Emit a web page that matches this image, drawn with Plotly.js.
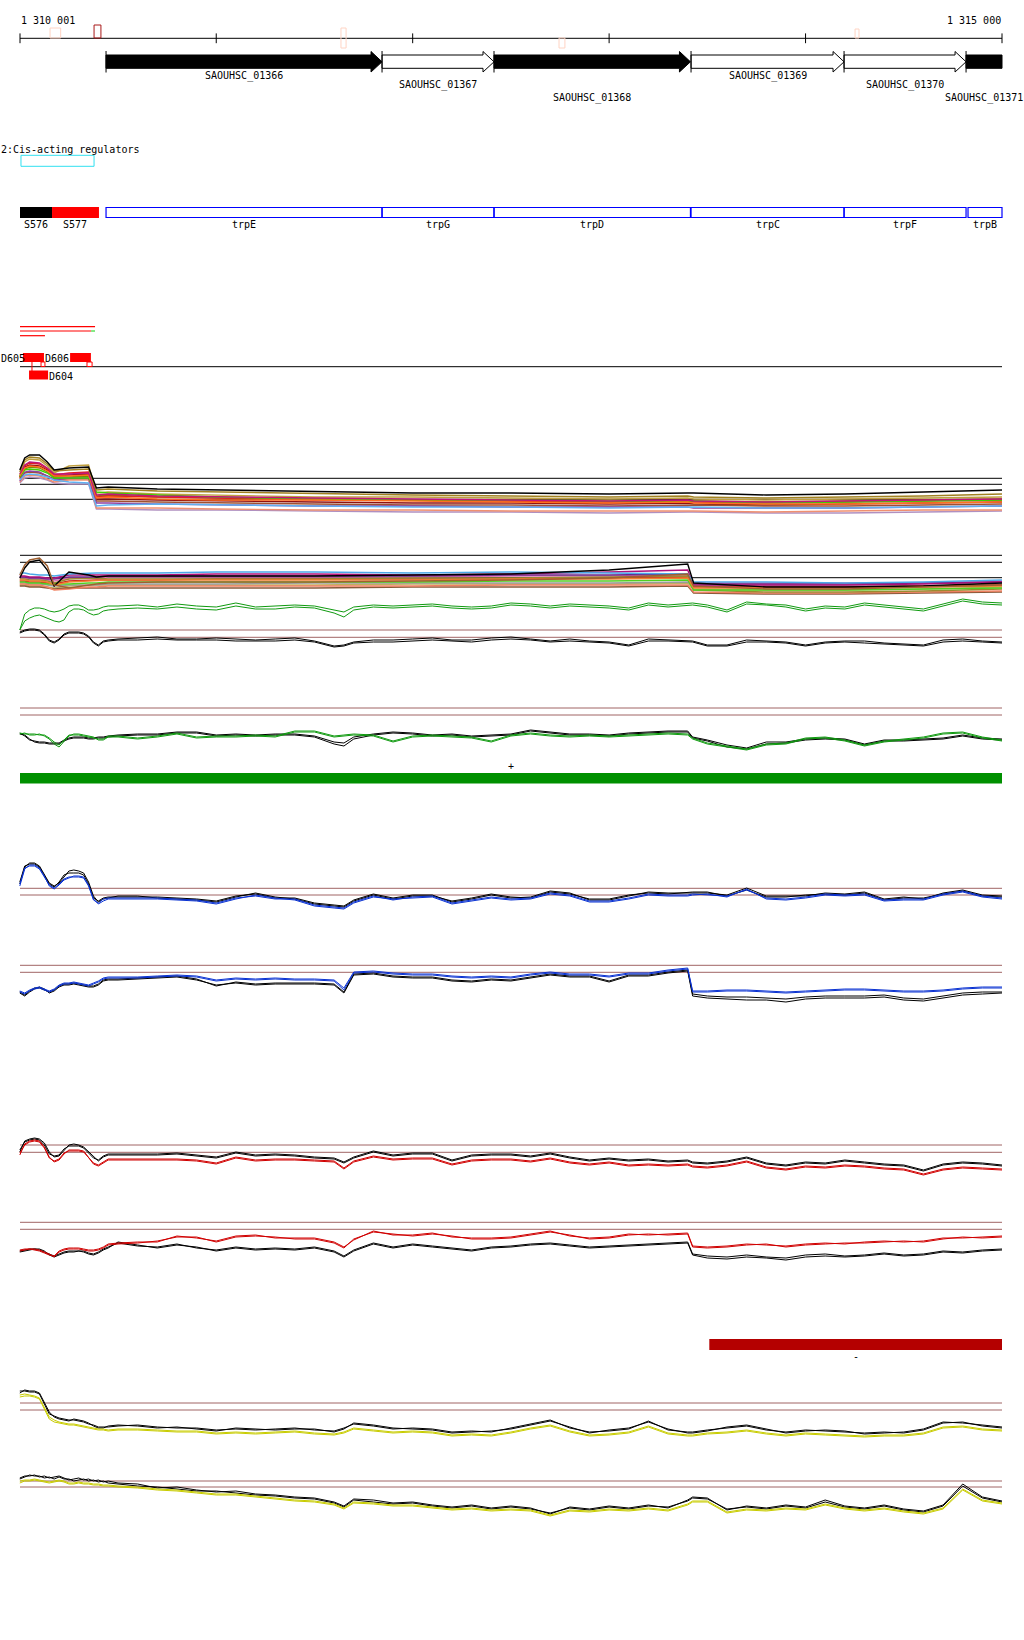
<!DOCTYPE html>
<html><head><meta charset="utf-8">
<script src="https://cdn.plot.ly/plotly-3.0.1.min.js"></script>
<style>body{margin:0;background:#fff}#chart{width:1024px;height:1640px}</style>
</head><body><div id="chart"></div>
<script>
// ---------- DATA ----------
const VIEW_START = 1310001, VIEW_END = 1315000;
const tickPositions = [1310001, 1311000, 1312000, 1313000, 1314000, 1315000];
const rulerLabels = ['1 310 001', '1 315 000'];

const siteStart = [1310154, 1310378, 1311635, 1312745, 1314252];
const siteEnd   = [1310208, 1310413, 1311661, 1312775, 1314272];
const siteColor = ['#ffd4c4', '#a81818', '#ffd4c4', '#ffd4c4', '#ffd4c4'];

const geneNames  = ['SAOUHSC_01366','SAOUHSC_01367','SAOUHSC_01368','SAOUHSC_01369','SAOUHSC_01370','SAOUHSC_01371'];
const geneStart  = [1310439, 1311844, 1312414, 1313417, 1314196, 1314817];
const geneEnd    = [1311844, 1312414, 1313414, 1314196, 1314817, 1315400];
const geneFilled = [true, false, true, false, false, true];
const geneLabelRow = [0, 1, 2, 0, 1, 2];

const cisStart = 1310006, cisEnd = 1310378;
const cisTitle = '2:Cis-acting regulators';

const sNames = ['S576', 'S577'];
const sStart = [1310001, 1310164];
const sEnd   = [1310164, 1310403];
const sColor = ['#000000', '#ff0000'];

const trpNames = ['trpE','trpG','trpD','trpC','trpF','trpB'];
const trpStart = [1310439, 1311844, 1312414, 1313417, 1314196, 1314827];
const trpEnd   = [1311844, 1312414, 1313414, 1314196, 1314817, 1315000];

const regLineStart = [1310001, 1310001, 1310363, 1310001];
const regLineEnd   = [1310383, 1310363, 1310383, 1310128];
const regLineColor = ['#ff0000', '#ff0000', '#33dd33', '#ff0000'];
const regLineRow   = [0, 1, 1, 2];

const dNames = ['D605', 'D606', 'D604'];
const dStart = [1310016, 1310256, 1310047];
const dEnd   = [1310123, 1310362, 1310144];
const dRow   = [0, 0, 1];
const dMarkStart = [1310108, 1310342];
const dMarkEnd   = [1310128, 1310368];

const plusStrandStart = 1310001, plusStrandEnd = 1315000;
const minusStrandStart = 1313510, minusStrandEnd = 1315000;

const posGrid = [1310000,1310025,1310050,1310075,1310100,1310125,1310150,1310175,1310200,1310225,1310250,1310275,1310300,1310325,1310350,1310375,1310400,1310425,1310450,
 1310500,1310600,1310700,1310800,1310900,1311000,1311100,1311200,1311300,1311400,1311500,1311600,1311650,1311700,1311800,1311900,1312000,1312100,1312200,1312300,1312400,
 1312500,1312600,1312700,1312800,1312900,1313000,1313100,1313200,1313300,1313400,1313425,1313500,1313600,1313700,1313800,1313900,1314000,1314100,1314200,1314300,
 1314400,1314500,1314600,1314700,1314800,1314900,1315000];
const mcGrid = [1310000,1310025,1310050,1310100,1310140,1310175,1310250,1310350,1310390,1310450,1310700,1311000,1311500,1312000,1312500,1313000,1313400,1313430,1313800,1314200,1314600,1315000];

// track 1 multi-sample profiles
const t1Colors = ['#000000','#a08020','#c0157a','#ff7020','#40d000','#60b0f0','#9040a0','#e02020','#f09070','#c0a040','#a05030','#b090c0','#901010','#7a8a00'];
const t1a = [50,62,65,65,58,50,52,53,32,33,31,30,28,27,27,26,27,27,25,26,28,30];
const t1b = [48,60,63,62,56,49,50,51,30,31,29,28,26,25,24,23,24,23,22,23,24,26];
const t1c = [46,55,58,57,52,46,46,47,25,26,24,23,22,21,20,19,20,19,18,19,20,21];
const t1d = [44,52,54,53,49,44,44,45,22,23,21,20,20,19,18,17,18,17,16,16,17,18];
const t1e = [43,50,51,50,47,42,42,42,28,27,25,23,21,20,20,19,19,19,17,18,19,20];
const t1f = [40,45,46,45,43,40,38,37,14,15,16,15,14,13,13,12,13,13,12,12,13,14];
const t1g = [39,48,49,48,44,40,42,42,17,17,16,15,14,14,13,13,13,12,12,12,13,14];
const t1h = [42,54,57,56,51,45,47,48,23,24,23,22,20,20,19,18,19,18,17,18,19,20];
const t1i = [38,44,45,44,41,38,40,40,12,12,12,11,10,10,9,9,9,9,8,9,10,10];
const t1j = [45,58,61,60,54,47,54,55,27,28,26,25,23,23,22,21,22,21,20,21,22,23];
const t1k = [41,47,48,47,44,41,41,41,19,19,18,17,16,15,15,14,15,15,14,14,15,16];
const t1l = [37,42,43,42,40,37,36,36,11,11,10,10,9,8,8,7,8,8,7,7,8,9];
const t1m = [43,53,55,54,50,44,45,46,21,21,20,19,18,17,17,16,17,16,15,16,17,18];
const t1n = [44,51,53,52,48,43,43,44,24,25,23,22,21,20,19,18,19,19,18,19,20,21];
const t1Thresholds = [41.7, 35.7, 20.7];

// track 2 multi-sample profiles
const t2Colors = ['#a06030','#000000','#4aa8e8','#b0107a','#6a2a8a','#f08030','#50d020','#9a8a30','#f08060','#d02020','#9a9a9a','#8a5a3a','#c0b060','#e070b0'];
const t2a = [80,90,95,97,89,70,67,70,71,72,73,73,73,74,75,77,81,69,66,66,68,70];
const t2b = [77,87,93,95,85,69,83,80,78,79,79,79,79,80,81,85,91,72,68,68,69,72];
const t2c = [82,82,81,80,80,79,81,82,82,82,82,83,83,82,83,82,81,73,73,72,73,75];
const t2d = [79,79,78,78,77,77,80,80,80,80,80,81,81,80,81,83,85,70,70,70,71,73];
const t2e = [78,78,77,77,76,76,78,78,78,79,79,79,79,79,80,80,81,71,71,71,72,73];
const t2f = [75,75,74,74,73,70,73,74,74,75,75,75,75,75,76,76,77,67,67,67,68,69];
const t2g = [73,73,72,72,71,71,71,72,72,73,73,73,73,73,74,74,75,65,65,65,66,67];
const t2h = [76,76,75,75,74,72,76,77,77,76,76,76,76,77,77,78,79,65,63,63,64,66];
const t2i = [71,71,70,70,68,65,66,68,68,69,69,69,69,69,70,70,70,63,62,62,63,64];
const t2j = [74,74,73,73,72,71,74,75,75,75,75,76,76,76,76,77,78,68,68,68,69,70];
const t2k = [72,72,71,71,70,69,70,70,70,71,71,71,72,72,72,72,73,69,69,69,69,71];
const t2l = [69,69,68,68,67,66,67,67,67,67,67,67,67,68,68,68,69,62,61,61,62,63];
const t2m = [70,70,69,69,68,67,69,70,70,70,70,70,70,71,71,71,72,66,65,65,66,68];
const t2n = [77,77,76,76,75,74,77,77,77,78,78,78,78,78,79,79,80,72,72,72,72,74];
const t2Thresholds = [99.7, 92.7, 77.3];
const t2Green1 = [25,41,45,47,47,46,44,43,44,46,49,50,50,48,45,45,46,48,49,49,50,48,51,49,48,52,48,49,50,49,45,43,48,50,49,50,51,49,48,49,52,51,49,51,50,49,47,52,50,51,52,50,45,53,51,50,46,49,48,52,50,48,46,51,56,53,52];
const t2Green2 = [25,34,37,39,40,38,36,34,33,35,43,46,46,45,42,40,41,44,45,46,47,46,48,46,45,49,46,46,48,47,42,38,45,48,47,48,49,47,46,47,50,49,47,49,48,47,45,50,48,49,50,48,43,51,50,48,44,47,46,50,48,46,44,49,54,51,50];
const t2Black1 = [23,25,26,26,25,21,15,13,16,21,23,23,23,22,19,13,10,14,15,16,17,18,16,16,17,16,15,16,17,14,9,10,13,15,15,16,17,15,15,17,18,16,14,16,14,13,10,16,15,14,14,10,10,15,14,13,10,13,14,14,12,11,10,15,16,14,13];
const t2Black2 = [22,24,25,25,24,20,14,12,15,20,22,22,22,21,18,12,9,13,14,15,15,16,15,15,15,14,14,14,15,13,8,9,12,13,13,14,15,14,13,15,16,15,13,14,13,12,9,14,14,13,13,9,9,13,13,12,9,12,13,12,11,10,9,13,14,13,12];
const t2Brown = [25, 17.7];

// track 3
const t3Black1 = [27,24,20,19,18,18,17,17,17,20,22,23,23,23,22,22,23,23,24,25,26,26,28,28,25,26,25,26,26,24,18,17,23,26,28,27,25,26,24,25,26,30,28,26,26,25,27,28,29,29,23,20,15,12,18,18,21,22,21,16,20,20,21,22,25,22,21];
const t3Black2 = [26,25,21,18,17,17,16,16,16,19,21,22,22,22,21,21,22,22,23,24,25,25,27,27,24,25,24,25,25,23,16,14,21,25,27,26,24,25,23,24,25,29,27,25,25,24,26,27,28,28,22,19,13,11,16,17,20,21,20,15,19,19,20,21,24,21,20];
const t3Green1 = [27,26,26,26,25,25,22,18,15,20,25,25,25,24,23,22,21,21,24,24,22,24,27,23,24,24,25,24,29,29,24,25,26,25,19,24,25,24,23,19,25,27,25,24,25,24,25,26,27,26,22,17,14,11,16,17,22,23,20,15,19,21,23,27,28,23,20];
const t3Green2 = [26,27,25,25,26,24,21,16,13,19,24,26,26,25,24,23,20,20,23,23,21,23,26,22,23,23,24,23,28,28,23,24,25,24,18,23,24,23,22,18,24,26,24,23,24,23,24,25,26,25,21,16,13,10,15,16,21,22,19,14,18,20,22,26,27,22,19];
const t3Brown = [52, 45];

// track 4
const t4aBlack1 = [38,54,56,56,53,44,36,33,38,45,47,47,47,45,36,22,19,22,23,23,23,23,22,21,19,24,26,22,22,17,15,14,20,26,22,25,25,18,21,25,22,23,29,27,20,20,24,28,27,27,27,27,25,32,24,24,24,27,26,28,21,23,21,27,30,25,24];
const t4aBlack2 = [36,53,57,57,54,46,37,34,37,43,49,50,49,47,38,24,18,21,22,24,24,22,21,20,18,23,27,23,21,16,14,13,19,25,21,24,24,19,22,26,23,22,28,26,21,21,25,27,26,28,28,28,24,30,23,23,25,26,25,27,20,22,22,26,29,24,23];
const t4aBlue1 = [36,52,54,54,51,43,35,32,36,41,43,43,43,42,34,20,17,21,22,22,22,22,21,20,17,22,24,21,21,15,13,12,18,24,20,23,24,17,20,23,21,22,27,25,19,19,22,26,25,25,26,25,24,30,22,21,23,26,25,26,20,21,21,26,29,24,22];
const t4aBlue2 = [34,51,55,55,52,44,34,31,35,40,42,44,44,43,35,21,16,19,21,21,21,21,20,19,16,21,25,22,20,14,12,11,17,23,21,22,23,16,19,22,20,21,26,24,18,18,21,25,24,24,25,26,23,31,21,20,22,25,24,25,19,20,20,25,28,23,21];
const t4aBrown = [31.7, 25];
const t4bBlack1 = [18,15,19,22,22,20,18,20,24,26,26,27,26,25,24,24,26,30,31,31,32,33,34,31,24,28,26,27,27,27,26,18,36,37,34,33,33,30,29,31,30,33,36,34,34,29,35,35,38,40,16,14,13,13,12,11,13,14,14,14,15,12,11,14,17,18,18];
const t4bBlack2 = [17,14,18,21,23,21,17,19,23,25,25,26,25,24,23,23,25,29,30,30,31,32,33,30,25,27,25,26,26,26,25,17,35,36,33,32,32,29,28,30,29,32,35,33,33,28,34,34,37,39,14,12,11,10,10,8,11,12,12,12,13,10,9,12,15,16,17];
const t4bBlue1 = [19,17,20,22,23,21,19,21,25,27,27,28,27,26,25,27,29,32,33,33,33,34,35,34,30,32,31,32,31,31,30,22,38,39,37,36,36,34,33,34,33,36,38,36,36,34,37,37,40,42,19,19,20,20,19,18,19,20,21,21,20,19,19,20,22,23,23];
const t4bBlue2 = [18,16,19,21,22,20,18,20,24,26,26,27,26,25,24,26,28,31,32,32,32,33,34,33,29,31,30,31,30,30,29,20,37,38,36,35,35,33,32,33,32,35,37,35,35,33,36,36,39,41,18,18,19,19,18,17,18,19,20,20,19,18,18,19,21,22,22];
const t4bBrown = [44.7, 37.7];

// track 5
const t5aBlack1 = [35,43,45,46,45,40,31,29,30,36,39,39,39,37,32,27,25,29,31,31,31,31,32,30,28,33,30,31,30,28,27,23,28,34,30,32,32,25,30,31,31,29,32,28,25,27,25,26,24,25,23,22,24,28,22,20,23,22,25,23,21,20,15,21,23,22,20];
const t5aBlack2 = [33,44,46,47,46,42,33,28,29,35,40,41,40,38,33,28,24,28,30,30,30,30,31,29,27,32,29,30,29,27,26,22,27,33,29,31,31,24,29,30,30,28,31,27,24,26,24,25,23,24,22,21,23,27,21,19,22,21,24,22,20,19,14,20,22,21,19];
const t5aRed1 = [32,40,43,44,43,37,27,24,26,32,34,34,34,33,27,22,20,23,26,26,26,26,26,25,22,28,25,26,26,25,24,17,24,29,26,27,27,21,25,26,26,24,27,23,21,23,20,21,20,21,19,18,20,24,18,16,19,18,20,19,17,16,11,16,18,17,16];
const t5aRed2 = [30,41,44,45,44,38,28,23,25,31,35,35,35,34,28,21,19,22,25,25,25,25,25,24,21,27,24,25,25,24,23,16,23,28,25,26,26,20,24,25,25,23,26,22,20,22,19,20,19,20,18,17,19,23,17,15,18,17,19,18,16,15,10,15,17,16,15];
const t5aBrown = [40, 32.7];
const t5bBlack1 = [14,15,16,16,15,13,11,9,11,13,14,14,14,14,12,11,13,16,18,22,19,18,21,17,15,18,16,17,16,18,14,9,15,22,18,21,19,17,15,18,19,21,22,20,18,19,20,21,22,23,11,9,8,10,8,7,10,11,9,10,12,10,11,14,13,15,16];
const t5bBlack2 = [13,14,15,16,16,14,10,8,10,12,13,13,14,13,11,10,12,15,17,23,20,17,20,18,14,17,15,16,15,17,13,8,14,21,17,20,18,16,14,17,18,20,21,19,17,18,19,20,21,22,10,7,6,8,7,5,8,9,8,9,11,9,10,13,12,14,15];
const t5bRed1 = [15,16,16,15,14,12,10,9,14,16,17,17,17,16,15,15,16,18,21,22,23,23,29,27,24,29,30,27,27,27,23,18,25,34,30,30,32,28,27,27,28,31,34,29,27,28,31,30,31,32,19,18,19,21,20,19,21,22,21,23,24,23,24,27,27,28,29];
const t5bRed2 = [14,15,16,16,15,13,11,8,13,15,16,16,16,15,14,14,15,17,20,21,22,24,28,28,23,28,29,28,26,26,22,17,26,33,31,29,31,29,26,26,27,30,33,30,26,27,30,31,30,31,18,17,18,20,21,18,20,21,22,22,23,24,23,26,28,27,28];
const t5bBrown = [42.7, 35.7];

// track 6
const t6aBlack1 = [59,59,58,58,56,46,36,34,32,31,30,30,29,28,26,25,23,23,23,24,25,23,22,22,20,21,20,21,22,20,19,22,26,24,21,22,21,18,19,18,22,26,30,22,18,19,21,29,20,18,18,20,22,24,20,18,20,19,18,17,18,17,20,27,28,24,22];
const t6aBlack2 = [57,60,59,59,57,48,38,33,31,30,29,31,30,29,27,24,22,22,24,25,24,22,23,21,19,22,21,20,21,21,18,21,27,25,22,21,20,17,18,19,21,25,29,23,17,20,22,28,21,17,17,19,23,25,21,17,19,20,19,16,17,18,21,28,27,25,23];
const t6aYellow1 = [55,56,55,54,52,42,33,30,28,27,26,26,25,24,23,22,21,21,20,21,21,20,19,19,17,18,17,18,19,17,16,18,22,20,18,19,18,15,16,15,18,22,25,19,15,16,18,24,17,15,15,17,18,20,17,15,17,16,15,14,15,15,17,23,24,21,20];
const t6aYellow2 = [53,54,54,53,51,41,31,28,27,26,25,25,24,23,22,21,20,20,19,20,20,19,18,18,16,17,16,17,18,16,15,17,21,19,17,18,17,14,15,14,17,21,24,18,14,15,17,23,16,14,14,16,17,19,16,14,16,15,14,13,14,14,16,22,23,20,19];
const t6aBrown = [47, 40];
const t6bBlack1 = [47,49,49,50,48,49,47,48,49,47,45,46,47,45,46,44,45,43,44,42,41,37,38,35,33,34,31,30,28,27,23,19,26,25,22,23,20,18,20,17,19,17,11,18,16,19,17,20,17,25,28,27,15,19,17,20,18,25,19,17,20,16,14,20,41,28,24];
const t6bBlack2 = [46,48,50,49,49,47,48,46,48,46,46,44,45,46,44,45,43,44,42,41,39,38,36,34,34,32,30,29,27,26,22,18,25,23,21,22,19,17,19,16,18,16,12,17,15,18,16,19,18,24,27,26,16,18,16,19,17,23,18,16,19,15,13,19,39,27,23];
const t6bYellow1 = [44,45,45,46,45,44,43,44,45,44,42,42,43,42,42,41,41,40,40,39,38,36,35,33,31,31,29,27,25,24,21,17,23,22,20,20,18,16,17,15,16,15,10,15,14,16,15,17,15,21,24,24,13,16,15,17,16,21,17,15,17,14,12,17,36,25,22];
const t6bYellow2 = [42,44,44,45,44,43,42,43,44,43,41,41,42,41,41,40,40,39,39,38,37,35,34,32,30,30,28,26,24,23,20,16,22,21,19,19,17,15,16,14,15,14,9,14,13,15,14,16,14,20,23,23,12,15,14,16,15,20,16,14,16,13,11,16,35,24,21];
const t6bBrown = [44, 38];

// ---------- LAYOUT CONSTANTS ----------
const W = 1024, H = 1640;
const PX_PER_BP = 982 / (VIEW_END - VIEW_START);
const X0 = VIEW_START - 20 / PX_PER_BP, X1 = X0 + W / PX_PER_BP;
const FONT = {family: 'DejaVu Sans Mono, monospace', size: 10, color: '#000'};
const CHAR_W = 6.02;
const BROWN = '#a06464';
const panels = {y2:[440,520], y3:[545,655], y4:[700,760], y5:[850,920], y6:[955,1010], y7:[1130,1185], y8:[1215,1265], y9:[1388,1450], y10:[1470,1525]};

const traces = [];
const shapes = [];
const annotations = [];
function toPx(bp) { return (bp - X0) * PX_PER_BP; }
function addLine(xs, ys, axis, color, width) {
  traces.push({type:'scatter', mode:'lines', x:xs, y:ys, xaxis:'x', yaxis:axis,
    line:{color:color, width:width||1}, hoverinfo:'skip', showlegend:false});
}
function addRect(x0, x1, y0, y1, lineColor, fill, lw) {
  shapes.push({type:'rect', xref:'x', yref:'y', x0:x0, x1:x1, y0:y0, y1:y1,
    line:{color:lineColor, width:lw===undefined?1:lw}, fillcolor:fill||'rgba(0,0,0,0)', layer:'above'});
}
function addText(text, x, y, xanchor, xref) {
  annotations.push({text:text, x:x, y:y, xref:xref||'x', yref:'y', xanchor:xanchor||'center', yanchor:'middle',
    showarrow:false, font:FONT, borderpad:0});
}
function hline(values, axis, color) {
  values.forEach(v => addLine([VIEW_START, VIEW_END], [v, v], axis, color, 1));
}

// ruler
addLine([VIEW_START, VIEW_END], [38.3, 38.3], 'y', '#000', 1);
traces.push({type:'scatter', mode:'markers', x:tickPositions, y:tickPositions.map(() => 38.3), xaxis:'x', yaxis:'y',
  marker:{symbol:'line-ns', size:7, line:{width:1, color:'#000'}}, hoverinfo:'skip', showlegend:false});
addText(rulerLabels[0], VIEW_START, 20, 'left');
addText(rulerLabels[1], VIEW_END, 20, 'right');
const siteTop = [28, 25, 28, 38, 29], siteBottom = [38, 38, 48, 48, 38];
siteStart.forEach((s, i) => addRect(s, siteEnd[i], siteTop[i], siteBottom[i], siteColor[i], 'rgba(0,0,0,0)', 1));

// genes
const HEAD = 11 / PX_PER_BP;
const rowY = [76, 85, 97.5];
geneNames.forEach((name, i) => {
  const s = geneStart[i];
  let xs, ys;
  if (geneEnd[i] > VIEW_END) {
    xs = [s, VIEW_END, VIEW_END, s, s]; ys = [55, 55, 68.3, 68.3, 55];
  } else {
    const e = geneEnd[i], h = e - HEAD;
    xs = [s, h, h, e, h, h, s, s]; ys = [55, 55, 51.5, 61.8, 72, 68.3, 68.3, 55];
  }
  traces.push({type:'scatter', mode:'lines', x:xs, y:ys, xaxis:'x', yaxis:'y', fill:'toself',
    fillcolor: geneFilled[i] ? '#000' : '#fff', line:{color:'#000', width:1}, hoverinfo:'skip', showlegend:false});
  addLine([s, s], [51, 72.5], 'y', '#000', 1);
  const mid = (s + Math.min(geneEnd[i], VIEW_END)) / 2;
  addText(name, mid, rowY[geneLabelRow[i]], 'center');
});

// cis-acting regulators
addText(cisTitle, 0, 149, 'left', 'paper');
addRect(cisStart, cisEnd, 155.3, 166.3, '#30e0f0', 'rgba(0,0,0,0)', 1);

// S576/S577 and trp operon
sNames.forEach((n, i) => {
  addRect(sStart[i], sEnd[i], 207, 218, sColor[i], sColor[i], 0);
  addText(n, (sStart[i] + sEnd[i]) / 2, 224, 'center');
});
trpNames.forEach((n, i) => {
  addRect(trpStart[i], trpEnd[i], 207.5, 217.5, '#0000ff', 'rgba(0,0,0,0)', 1.2);
  addText(n, (trpStart[i] + trpEnd[i]) / 2, 224.5, 'center');
});

// regulatory RNA lines and D-features
const regRowY = [326.7, 331, 335.7];
regLineStart.forEach((s, i) => addLine([s, regLineEnd[i]], [regRowY[regLineRow[i]], regRowY[regLineRow[i]]], 'y', regLineColor[i], 1.2));
addLine([VIEW_START, VIEW_END], [366.7, 366.7], 'y', '#000', 1);
const dRowTop = [353, 370.5], dRowBottom = [362, 379.5];
addLine([dStart[2] + 15, dStart[2] + 15], [362, 371], 'y', '#ff0000', 1);
dNames.forEach((n, i) => {
  addRect(dStart[i], dEnd[i], dRowTop[dRow[i]], dRowBottom[dRow[i]], '#ff0000', '#ff0000', 0);
  if (dRow[i] === 0) {
    // keep the label inside the page: if it would run past the left edge, start it at the edge
    if (toPx(dStart[i]) < n.length * CHAR_W + 0.5) addText(n, 0, 358.5, 'left', 'paper');
    else addText(n, dStart[i], 358.5, 'right');
  } else addText(n, dEnd[i], 376, 'left');
});
dMarkStart.forEach((s, i) => addRect(s, dMarkEnd[i], 362, 366.5, '#ff0000', '#fff', 1));

// strand bars
addRect(plusStrandStart, plusStrandEnd, 773, 783.5, '#009000', '#009000', 0);
addText('+', (plusStrandStart + plusStrandEnd) / 2, 766, 'center');
addRect(minusStrandStart, minusStrandEnd, 1339, 1350, '#b40000', '#b40000', 0);
addText('-', (minusStrandStart + minusStrandEnd) / 2, 1356, 'center');

// track 1
hline(t1Thresholds, 'y2', '#000');
const t1Series = [t1a,t1b,t1c,t1d,t1e,t1f,t1g,t1h,t1i,t1j,t1k,t1l,t1m,t1n];
for (let i = t1Series.length - 1; i >= 0; i--) addLine(mcGrid, t1Series[i], 'y2', t1Colors[i], 1.4);
// track 2
hline(t2Thresholds, 'y3', '#000');
hline(t2Brown, 'y3', BROWN);
const t2Series = [t2a,t2b,t2c,t2d,t2e,t2f,t2g,t2h,t2i,t2j,t2k,t2l,t2m,t2n];
for (let i = t2Series.length - 1; i >= 0; i--) addLine(mcGrid, t2Series[i], 'y3', t2Colors[i], 1.4);
addLine(posGrid, t2Green1, 'y3', '#109a10', 1);
addLine(posGrid, t2Green2, 'y3', '#109a10', 1);
addLine(posGrid, t2Black1, 'y3', '#000', 1);
addLine(posGrid, t2Black2, 'y3', '#000', 1);
// track 3
hline(t3Brown, 'y4', BROWN);
addLine(posGrid, t3Black1, 'y4', '#000', 1);
addLine(posGrid, t3Black2, 'y4', '#000', 1);
addLine(posGrid, t3Green1, 'y4', '#109a10', 1);
addLine(posGrid, t3Green2, 'y4', '#109a10', 1);
// track 4
hline(t4aBrown, 'y5', BROWN);
addLine(posGrid, t4aBlack1, 'y5', '#000', 1);
addLine(posGrid, t4aBlack2, 'y5', '#000', 1);
addLine(posGrid, t4aBlue1, 'y5', '#0a32d2', 1);
addLine(posGrid, t4aBlue2, 'y5', '#0a32d2', 1);
hline(t4bBrown, 'y6', BROWN);
addLine(posGrid, t4bBlack1, 'y6', '#000', 1);
addLine(posGrid, t4bBlack2, 'y6', '#000', 1);
addLine(posGrid, t4bBlue1, 'y6', '#0a32d2', 1);
addLine(posGrid, t4bBlue2, 'y6', '#0a32d2', 1);
// track 5
hline(t5aBrown, 'y7', BROWN);
addLine(posGrid, t5aBlack1, 'y7', '#000', 1);
addLine(posGrid, t5aBlack2, 'y7', '#000', 1);
addLine(posGrid, t5aRed1, 'y7', '#d00000', 1);
addLine(posGrid, t5aRed2, 'y7', '#d00000', 1);
hline(t5bBrown, 'y8', BROWN);
addLine(posGrid, t5bBlack1, 'y8', '#000', 1);
addLine(posGrid, t5bBlack2, 'y8', '#000', 1);
addLine(posGrid, t5bRed1, 'y8', '#d00000', 1);
addLine(posGrid, t5bRed2, 'y8', '#d00000', 1);
// track 6
hline(t6aBrown, 'y9', BROWN);
addLine(posGrid, t6aBlack1, 'y9', '#000', 1);
addLine(posGrid, t6aBlack2, 'y9', '#000', 1);
addLine(posGrid, t6aYellow1, 'y9', '#c8cc00', 1);
addLine(posGrid, t6aYellow2, 'y9', '#c8cc00', 1);
hline(t6bBrown, 'y10', BROWN);
addLine(posGrid, t6bBlack1, 'y10', '#000', 1);
addLine(posGrid, t6bBlack2, 'y10', '#000', 1);
addLine(posGrid, t6bYellow1, 'y10', '#c8cc00', 1);
addLine(posGrid, t6bYellow2, 'y10', '#c8cc00', 1);

const layout = {
  width: W, height: H, margin: {l:0, r:0, t:0, b:0, pad:0},
  paper_bgcolor: '#fff', plot_bgcolor: 'rgba(0,0,0,0)', showlegend: false, hovermode: false,
  xaxis: {range: [X0, X1], visible: false, fixedrange: true, anchor: 'y'},
  yaxis: {range: [H, 0], domain: [0, 1], visible: false, fixedrange: true, anchor: 'x'},
  shapes: shapes, annotations: annotations
};
Object.keys(panels).forEach(k => {
  const [top, bottom] = panels[k];
  const name = 'yaxis' + k.slice(1);
  layout[name] = {domain: [1 - bottom / H, 1 - top / H], range: [0, bottom - top], visible: false, fixedrange: true, anchor: 'x'};
});

Plotly.newPlot('chart', traces, layout, {staticPlot: true, displayModeBar: false});
</script>
</body></html>
